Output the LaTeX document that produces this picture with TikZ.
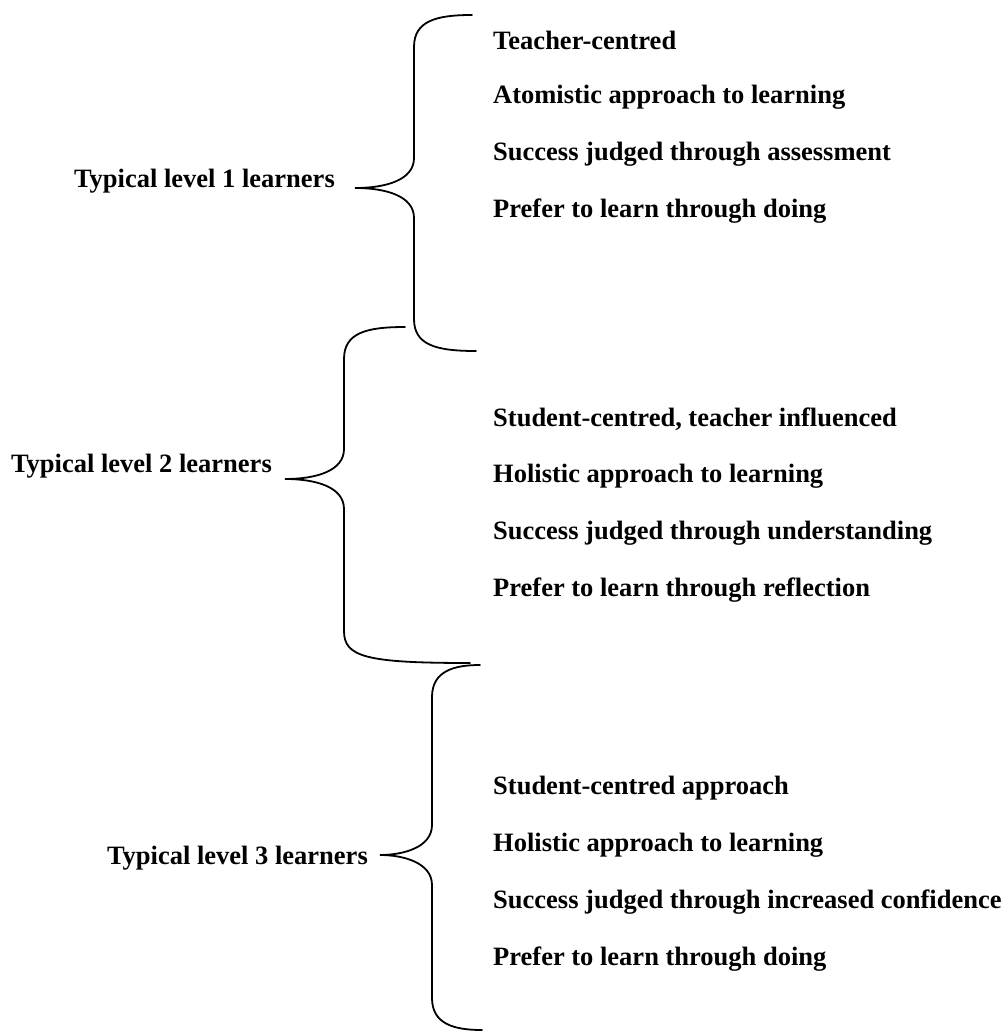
\documentclass[tikz,border=0pt]{standalone}
\usepackage{fontspec}
\setmainfont{Liberation Serif}
\usetikzlibrary{positioning}

% #1 top end x, #2 top y, #3 spine x, #4 tip x, #5 tip y, #6 bottom end x, #7 bottom y
\newcommand{\levelbrace}[7]{%
  \draw[bracestroke] (#1,#2) .. controls (#3+22,#2) and (#3,#2+6) .. (#3,#2+32)
    -- (#3,#5-30) .. controls (#3,#5-8) and (#3-28,#5) .. (#4,#5)
    .. controls (#3-28,#5) and (#3,#5+8) .. (#3,#5+30)
    -- (#3,#7-32) .. controls (#3,#7-6) and (#3+22,#7) .. (#6,#7);
}

\begin{document}
\begin{tikzpicture}[x=1pt,y=-1pt,
    bracestroke/.style={line width=1.8pt, line cap=round},
    learner/.style={inner sep=0pt, font=\fontsize{26.5}{32}\selectfont\bfseries},
    trait/.style={anchor=west, inner sep=0pt, font=\fontsize{26.5}{32}\selectfont\bfseries}]
    \useasboundingbox (0,0) rectangle (1008,1035);

    % level 1
    \levelbrace{472}{15}{414}{355}{188}{476}{351}
    \coordinate (tip1) at (355,188);
    \node[learner, anchor=base east] (lvl1) at ([xshift=-20pt,yshift=1pt]tip1) {Typical level 1 learners};
    \foreach \txt [count=\i] in {Teacher-centred, Atomistic approach to learning,
        Success judged through assessment, Prefer to learn through doing}
        \node[trait] (a\i) at (493,40+57*\i-57) {\txt};

    % level 2
    \levelbrace{405}{327}{344}{285}{479}{470}{663}
    \coordinate (tip2) at (285,479);
    \node[learner, anchor=base east] (lvl2) at ([xshift=-13pt,yshift=7pt]tip2) {Typical level 2 learners};
    \foreach \txt [count=\i] in {{Student-centred, teacher influenced}, Holistic approach to learning,
        Success judged through understanding, Prefer to learn through reflection}
        \node[trait] (b\i) at (493,419+57*\i-57) {\txt};

    % level 3
    \levelbrace{480}{665}{432}{380}{855}{482}{1030}
    \coordinate (tip3) at (380,855);
    \node[learner, anchor=east] (lvl3) at ([xshift=-12pt,yshift=-3pt]tip3) {Typical level 3 learners};
    \foreach \txt [count=\i] in {Student-centred approach, Holistic approach to learning,
        Success judged through increased confidence, Prefer to learn through doing}
        \node[trait] (c\i) at (493,788+57*\i-57) {\txt};
\end{tikzpicture}
\end{document}
